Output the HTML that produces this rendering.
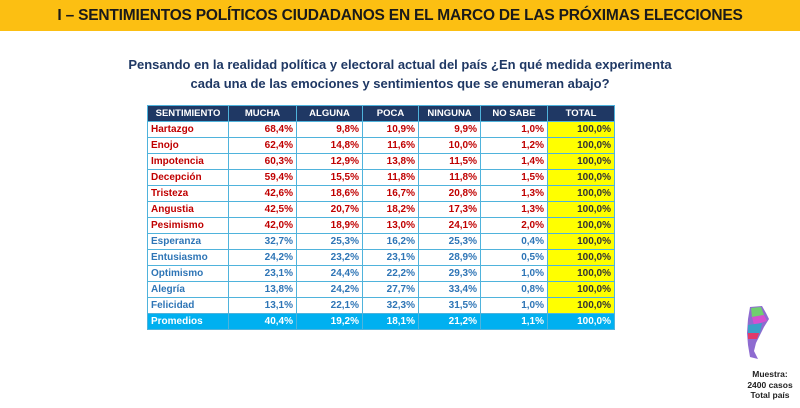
<!DOCTYPE html>
<html><head><meta charset="utf-8"><style>
body{margin:0;width:800px;height:408px;background:#fff;font-family:"Liberation Sans",sans-serif;position:relative;overflow:hidden}
#banner{position:absolute;left:0;top:0;width:800px;height:31px;background:#fcbf12;color:#1a1a1a;font-weight:bold;font-size:15.5px;line-height:31px;text-align:center;letter-spacing:-0.2px}
#sub{position:absolute;left:0;top:55px;width:800px;text-align:center;color:#1f3864;font-weight:bold;font-size:13px;line-height:19px}
table{position:absolute;left:147px;top:105px;width:467px;table-layout:fixed;border-collapse:collapse;font-size:10px;font-weight:bold}
tr{height:16px}
td,th{border:1.5px solid #4fb3dc;padding:0 3px;line-height:13px;white-space:nowrap;overflow:hidden}
th{background:#1f3864;color:#fff;font-size:9.5px;text-align:center}
td{text-align:right}
td:first-child{text-align:left}
tr.r td{color:#c00000}
tr.b td{color:#2e75b6}
td.t{background:#ffff00;color:#333!important}
tr.p td{background:#00b0f0;color:#fff}
#map{position:absolute;left:742px;top:305px}
#note{position:absolute;left:720px;top:369px;width:100px;text-align:center;font-size:8.5px;font-weight:bold;color:#222;line-height:10.5px}
</style></head><body>
<div id="banner">I – SENTIMIENTOS POLÍTICOS CIUDADANOS EN EL MARCO DE LAS PRÓXIMAS ELECCIONES</div>
<div id="sub">Pensando en la realidad política y electoral actual del país ¿En qué medida experimenta<br>cada una de las emociones y sentimientos que se enumeran abajo?</div>
<table id="tbl">
<colgroup><col style="width:81px"><col style="width:68px"><col style="width:66px"><col style="width:56px"><col style="width:62px"><col style="width:67px"><col style="width:67px"></colgroup>
<thead><tr><th>SENTIMIENTO</th><th>MUCHA</th><th>ALGUNA</th><th>POCA</th><th>NINGUNA</th><th>NO SABE</th><th>TOTAL</th></tr></thead>
<tbody id="tb"></tbody></table>
<svg id="map" width="30" height="56" viewBox="0 0 30 56">
<path d="M8 2 L20 1 L24 8 L27 14 L22 22 L18 30 L14 38 L12 46 L16 54 L8 52 L6 40 L5 28 L6 14Z" fill="#8e6bd0"/>
<path d="M9 3 L19 2 L22 10 L10 12Z" fill="#6fcf6f"/>
<path d="M10 12 L22 10 L25 16 L12 20Z" fill="#d44fd0"/>
<path d="M6 20 L20 18 L18 28 L6 28Z" fill="#3aa0c8"/>
<path d="M6 28 L17 28 L15 34 L6 34Z" fill="#e23a6a"/>
</svg>
<div id="note">Muestra:<br>2400 casos<br>Total país</div>
<script>
const sentimientos=["Hartazgo","Enojo","Impotencia","Decepción","Tristeza","Angustia","Pesimismo","Esperanza","Entusiasmo","Optimismo","Alegría","Felicidad","Promedios"];
const mucha=["68,4%","62,4%","60,3%","59,4%","42,6%","42,5%","42,0%","32,7%","24,2%","23,1%","13,8%","13,1%","40,4%"];
const alguna=["9,8%","14,8%","12,9%","15,5%","18,6%","20,7%","18,9%","25,3%","23,2%","24,4%","24,2%","22,1%","19,2%"];
const poca=["10,9%","11,6%","13,8%","11,8%","16,7%","18,2%","13,0%","16,2%","23,1%","22,2%","27,7%","32,3%","18,1%"];
const ninguna=["9,9%","10,0%","11,5%","11,8%","20,8%","17,3%","24,1%","25,3%","28,9%","29,3%","33,4%","31,5%","21,2%"];
const nosabe=["1,0%","1,2%","1,4%","1,5%","1,3%","1,3%","2,0%","0,4%","0,5%","1,0%","0,8%","1,0%","1,1%"];
const total=["100,0%","100,0%","100,0%","100,0%","100,0%","100,0%","100,0%","100,0%","100,0%","100,0%","100,0%","100,0%","100,0%"];
const tb=document.getElementById('tb');
sentimientos.forEach((s,i)=>{
const tr=document.createElement('tr');
tr.className=i===12?'p':(i<7?'r':'b');


[s,mucha[i],alguna[i],poca[i],ninguna[i],nosabe[i],total[i]].forEach((v,j)=>{
const td=document.createElement('td');td.textContent=v;
if(j===6&&i!==12)td.className='t';
tr.appendChild(td);});
tb.appendChild(tr);});
</script>
</body></html>
